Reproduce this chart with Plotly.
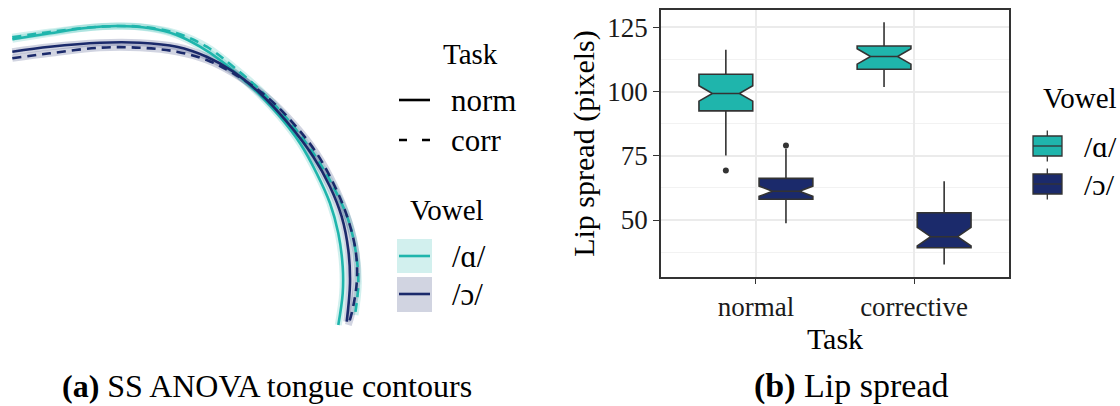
import plotly.graph_objects as go

W, H = 1120, 406
FONT = "Liberation Serif"
TEAL = "#1FB5AC"
NAVY = "#1B2A6B"
TEAL_BAND = "rgba(31,181,172,0.2)"
NAVY_BAND = "rgba(27,42,107,0.2)"
EDGE = "#333333"

# ---------------- (a) SS ANOVA tongue contours (image units, y downward) ----
a_norm_x = [12.3, 50, 83.3, 116.7, 150, 176.7, 200, 220, 240, 260, 280, 300, 316.7, 330, 338.3, 342.7, 342.7, 338.3]
a_norm_y = [39.3, 33.3, 28.3, 26, 28.3, 35, 46.7, 60, 76.7, 95, 116.7, 143.3, 173.3, 203.3, 233.3, 266.7, 293.3, 325]
a_corr_x = [12.3, 50, 100, 140, 176.7, 206.7, 233.3, 260, 286.7, 313.3, 333.3, 348.3, 356, 358.3, 355]
a_corr_y = [37.3, 32, 26.7, 26.7, 33.3, 46.7, 66.7, 90, 118.3, 153.3, 186.7, 220, 253.3, 283.3, 315]
o_norm_x = [12.3, 50, 100, 140, 176.7, 206.7, 233.3, 260, 286.7, 313.3, 330, 341.7, 348.3, 350, 346.7]
o_norm_y = [51.7, 46.7, 42.7, 42.7, 46.7, 56.7, 71.7, 93.3, 121.7, 156.7, 186.7, 216.7, 250, 283.3, 321.7]
o_corr_x = [12.3, 50, 100, 140, 176.7, 206.7, 233.3, 266.7, 293.3, 316.7, 335, 348.3, 356, 356.7, 351.7, 348.3]
o_corr_y = [58.3, 53.3, 47.7, 47.7, 51.7, 60, 73.3, 96.7, 123.3, 153.3, 186.7, 220, 253.3, 283.3, 313.3, 325]

# ---------------- (b) Lip spread boxplot summary ----------------------------
tasks = ["normal", "corrective"]
a_q1 = [92.5, 108.7]
a_med = [99.3, 113.7]
a_q3 = [106.8, 117.8]
a_lo = [75.1, 101.8]
a_hi = [116.3, 127.0]
a_notch = [3.0, 3.0]
o_q1 = [58.1, 39.2]
o_med = [61.2, 43.5]
o_q3 = [66.2, 52.8]
o_lo = [48.7, 32.7]
o_hi = [77.8, 65.1]
o_notch = [2.0, 3.6]
a_out_task = [0]
a_out_val = [69.3]
o_out_task = [0]
o_out_val = [79.0]
y_ticks = [50, 75, 100, 125]

DODGE = 0.19
BOXW = 0.34


def X(p):
    return p / W


def Y(p):
    return 1 - p / H


fig = go.Figure()

# tongue contours: bands then lines
curves = [
    (a_norm_x, a_norm_y, TEAL, TEAL_BAND, "solid"),
    (a_corr_x, a_corr_y, TEAL, TEAL_BAND, "9px,6px"),
    (o_norm_x, o_norm_y, NAVY, NAVY_BAND, "solid"),
    (o_corr_x, o_corr_y, NAVY, NAVY_BAND, "9px,6px"),
]
for cx, cy, col, band, dash in curves:
    fig.add_trace(go.Scatter(x=cx, y=cy, mode="lines", line=dict(color=band, width=7, shape="spline"),
                             xaxis="x", yaxis="y", showlegend=False, hoverinfo="skip"))
for cx, cy, col, band, dash in curves:
    fig.add_trace(go.Scatter(x=cx, y=cy, mode="lines", line=dict(color=col, width=2.6, dash=dash, shape="spline"),
                             xaxis="x", yaxis="y", showlegend=False))

# boxplots
a_pos = [i + 1 - DODGE for i in range(len(tasks))]
o_pos = [i + 1 + DODGE for i in range(len(tasks))]
for pos, q1, med, q3, lo, hi, nt, col in [
    (a_pos, a_q1, a_med, a_q3, a_lo, a_hi, a_notch, TEAL),
    (o_pos, o_q1, o_med, o_q3, o_lo, o_hi, o_notch, NAVY),
]:
    fig.add_trace(go.Box(x=pos, q1=q1, median=med, q3=q3, lowerfence=lo, upperfence=hi,
                         notched=True, notchspan=nt, notchwidth=0.25, width=BOXW, whiskerwidth=0,
                         fillcolor=col, line=dict(color=EDGE, width=1.6), boxpoints=False,
                         xaxis="x2", yaxis="y2", showlegend=False))
fig.add_trace(go.Scatter(x=[a_pos[i] for i in a_out_task], y=a_out_val, mode="markers",
                         marker=dict(color=EDGE, size=6), xaxis="x2", yaxis="y2", showlegend=False))
fig.add_trace(go.Scatter(x=[o_pos[i] for i in o_out_task], y=o_out_val, mode="markers",
                         marker=dict(color=EDGE, size=6), xaxis="x2", yaxis="y2", showlegend=False))

tickfont = dict(family=FONT, size=27, color="#1a1a1a")
fig.update_layout(
    width=W, height=H, margin=dict(l=0, r=0, t=0, b=0),
    paper_bgcolor="white", plot_bgcolor="white",
    font=dict(family=FONT, color="black"),
    xaxis=dict(domain=[0, 370 / W], range=[0, 370], visible=False),
    yaxis=dict(domain=[0, 1], range=[406, 0], visible=False),
    xaxis2=dict(domain=[X(661), X(1009)], range=[0.4, 2.6], anchor="y2",
                tickvals=[1, 2], ticktext=tasks, ticks="outside", ticklen=5, tickcolor=EDGE, tickwidth=1.3,
                showgrid=True, gridcolor="#EBEBEB", gridwidth=1.5, zeroline=False,
                showline=True, mirror=True, linecolor=EDGE, linewidth=1.5,
                tickfont=tickfont,
                title=dict(text="Task", font=dict(family=FONT, size=30, color="black"), standoff=0)),
    yaxis2=dict(domain=[Y(277), Y(10)], range=[27.8, 131.8], anchor="x2",
                tickvals=y_ticks, ticks="outside", ticklen=6, tickcolor=EDGE, tickwidth=1.3,
                showgrid=True, gridcolor="#EBEBEB", gridwidth=1.5, zeroline=False,
                minor=dict(tickvals=[37.5, 62.5, 87.5, 112.5], showgrid=True, gridcolor="#F2F2F2", gridwidth=1, ticks=""),
                showline=True, mirror=True, linecolor=EDGE, linewidth=1.5,
                tickfont=tickfont,
                title=dict(text="Lip spread (pixels)", font=dict(family=FONT, size=30, color="black"), standoff=4)),
)

shapes = []
ann = []


def text(x, y, s, size, anchor="left"):
    ann.append(dict(x=X(x), y=Y(y), xref="paper", yref="paper", text=s, showarrow=False,
                    xanchor=anchor, yanchor="middle", font=dict(family=FONT, size=size, color="black")))


def hline(x0, x1, y, color, width, dash="solid"):
    shapes.append(dict(type="line", xref="paper", yref="paper", x0=X(x0), x1=X(x1), y0=Y(y), y1=Y(y),
                       line=dict(color=color, width=width, dash=dash)))


def rect(x0, x1, y0, y1, fill, line=None, lw=0):
    shapes.append(dict(type="rect", xref="paper", yref="paper", x0=X(x0), x1=X(x1), y0=Y(y0), y1=Y(y1),
                       fillcolor=fill, line=dict(color=line or fill, width=lw), layer="above"))


# left legend
text(470, 54, "Task", 29, "center")
hline(399, 430, 100, "black", 2.6)
text(449, 101, "norm", 31)
hline(399, 430, 140, "black", 2.6, "8px,15px")
text(449, 140, "corr", 31)
text(447, 210, "Vowel", 29, "center")
rect(397, 432, 239, 273, "#D2F0EE")
hline(399, 430, 256, TEAL, 2.6)
text(450, 256, "/ɑ/", 31)
rect(397, 432, 277, 312, "#D1D4E1")
hline(399, 430, 294, NAVY, 2.6)
text(450, 294, "/ɔ/", 31)

# right legend
text(1041, 98, "Vowel", 29)
for yc, col in [(146, TEAL), (184, NAVY)]:
    shapes.append(dict(type="line", xref="paper", yref="paper", x0=X(1047.3), x1=X(1047.3), y0=Y(yc - 15.5), y1=Y(yc + 15.5),
                       line=dict(color=EDGE, width=1.3)))
    rect(1033, 1062, yc - 10, yc + 10, col, EDGE, 1.3)
    hline(1033, 1062, yc, EDGE, 1.3)
text(1082, 146, "/ɑ/", 30)
text(1082, 184, "/ɔ/", 30)

# captions
text(60, 386, "<b>(a)</b> SS ANOVA tongue contours", 32)
text(752, 386, "<b>(b)</b> Lip spread", 34)

fig.update_layout(shapes=shapes, annotations=ann)
fig.write_html("out.html", config={"displayModeBar": False},
               post_script="document.body.style.margin='0';document.body.style.overflow='hidden';")
